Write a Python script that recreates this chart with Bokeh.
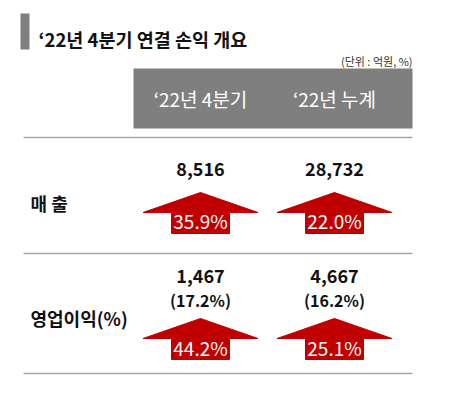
from bokeh.plotting import figure
from bokeh.models import Range1d
from bokeh.core.properties import value
from bokeh.embed import file_html
from bokeh.resources import INLINE

# ---- data ----
title = "‘22년 4분기 연결 손익 개요"
unit_note = "(단위 : 억원, %)"
columns = ["‘22년 4분기", "‘22년 누계"]
rows = ["매 출", "영업이익(%)"]
sales = [8516, 28732]
op_profit = [1467, 4667]
op_margin = [17.2, 16.2]
sales_growth = [35.9, 22.0]
op_growth = [44.2, 25.1]

FONT = value("Noto Sans CJK KR")
GRAY = "#7f7f7f"
RED = "#c00000"
LINE = "#a6a6a6"

W, H = 437, 391
p = figure(width=W, height=H, output_backend="svg", toolbar_location=None,
           x_range=Range1d(0, W), y_range=Range1d(H, 0),
           min_border=0, outline_line_color=None)
p.axis.visible = False
p.grid.visible = False
p.background_fill_color = "white"

# layout constants
col_x = [200, 334]
left, right = 23, 412
row_label_y = [202, 317]
value_y = [168, 275]
margin_y = 299
arrow_tip = [192, 318]
arrow_base = [212, 338]
arrow_bottom = [233, 359]
growth_y = [220, 347]
head_hw, shaft_hw = 57.5, 29

# title block
p.quad(left=[20], right=[29], top=[13], bottom=[49], color=GRAY, line_color=None)
p.text(x=[38], y=[38], text=[title], text_font=FONT, text_font_size="18.5px",
       text_font_style="bold", text_baseline="middle", text_align="left", text_color="#111111")
p.text(x=[right], y=[60], text=[unit_note], text_font=FONT, text_font_size="11px",
       text_baseline="middle", text_align="right", text_color="#333333")

# header
p.quad(left=[133], right=[right], top=[68], bottom=[128], color=GRAY, line_color=None)
p.text(x=col_x, y=[98, 98], text=columns, text_font=FONT, text_font_size="19px",
       text_baseline="middle", text_align="center", text_color="white")

# separator lines
for yy in [137, 253, 373]:
    p.line(x=[left, right], y=[yy, yy], line_color=LINE, line_width=1.5)

# row labels
p.text(x=[30, 30], y=row_label_y, text=rows, text_font=FONT, text_font_size="18px",
       text_font_style="bold", text_baseline="middle", text_align="left", text_color="#111111")

# values
p.text(x=col_x, y=[value_y[0]] * 2, text=[f"{v:,}" for v in sales], text_font=FONT,
       text_font_size="18px", text_font_style="bold", text_baseline="middle",
       text_align="center", text_color="#111111")
p.text(x=col_x, y=[value_y[1]] * 2, text=[f"{v:,}" for v in op_profit], text_font=FONT,
       text_font_size="18px", text_font_style="bold", text_baseline="middle",
       text_align="center", text_color="#111111")
p.text(x=col_x, y=[margin_y] * 2, text=[f"({m:.1f}%)" for m in op_margin], text_font=FONT,
       text_font_size="16px", text_font_style="bold", text_baseline="middle",
       text_align="center", text_color="#111111")

# arrows
xs, ys = [], []
for r in range(2):
    for cx in col_x:
        t, b, bt = arrow_tip[r], arrow_base[r], arrow_bottom[r]
        xs.append([cx, cx + head_hw, cx + shaft_hw, cx + shaft_hw, cx - shaft_hw, cx - shaft_hw, cx - head_hw])
        ys.append([t, b, b, bt, bt, b, b])
p.patches(xs=xs, ys=ys, fill_color=RED, line_color=RED, line_width=1)

growth = [sales_growth, op_growth]
for r in range(2):
    p.text(x=col_x, y=[growth_y[r]] * 2, text=[f"{g:.1f}%" for g in growth[r]], text_font=FONT,
           text_font_size="19px", text_baseline="middle", text_align="center", text_color="white")

open("out.html", "w").write(file_html(p, INLINE))
